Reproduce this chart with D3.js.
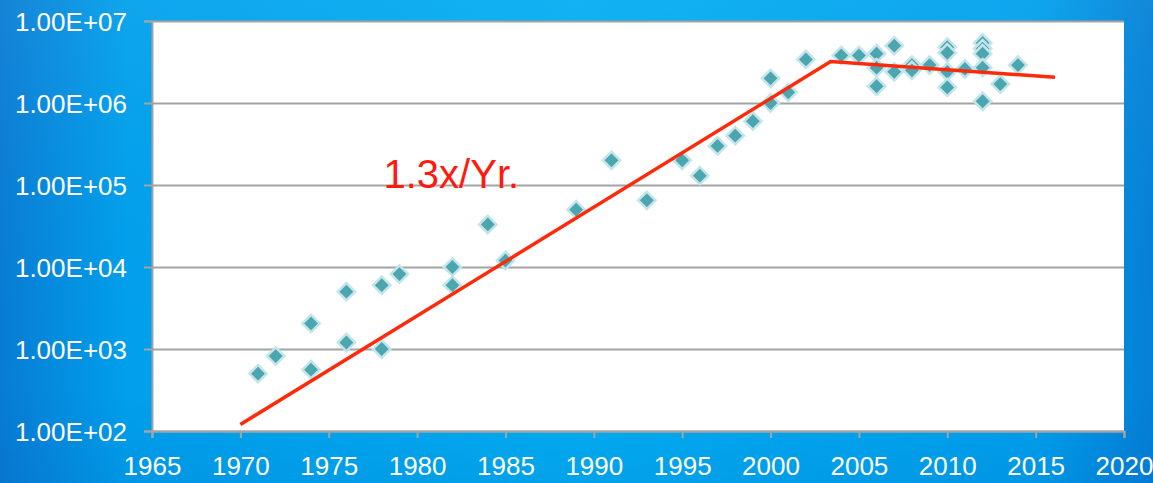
<!DOCTYPE html>
<html>
<head>
<meta charset="utf-8">
<script src="https://cdn.jsdelivr.net/npm/d3@7"></script>
<style>
  html, body { margin: 0; padding: 0; }
  body { width: 1153px; height: 483px; overflow: hidden; }
  text { font-family: "Liberation Sans", Arial, sans-serif; }
</style>
</head>
<body>
<div id="chart"></div>
<script>
// scatter data
const years = [1971, 1972, 1974, 1974, 1976, 1976, 1978, 1978, 1979, 1982, 1982, 1984, 1985,
  1989, 1991, 1993, 1995, 1996, 1997, 1998, 1999, 2000, 2000, 2001, 2002,
  2004, 2005, 2006, 2006, 2006, 2007, 2007, 2008, 2008, 2009,
  2010, 2010, 2010, 2010, 2011, 2012, 2012, 2012, 2012, 2012, 2013, 2014];
const values = [500, 820, 2050, 560, 5000, 1200, 6000, 1000, 8200, 10000, 6000, 33000, 12000,
  50000, 200000, 65000, 200000, 130000, 300000, 400000, 600000, 1000000, 2000000, 1350000, 3400000,
  3800000, 3800000, 4000000, 2700000, 1600000, 5000000, 2400000, 2900000, 2500000, 2900000,
  4800000, 4100000, 2400000, 1550000, 2600000, 5400000, 4600000, 4000000, 2700000, 1050000, 1700000, 2900000];

// trend line
const trendYears = [1970, 2003.4, 2016.1];
const trendValues = [120, 3200000, 2060000];

const xTicks = [1965, 1970, 1975, 1980, 1985, 1990, 1995, 2000, 2005, 2010, 2015, 2020];
const yTicks = [1e2, 1e3, 1e4, 1e5, 1e6, 1e7];
const rateLabel = "1.3x/Yr.";

const width = 1153, height = 483;
const margin = { top: 21, right: 29, bottom: 52, left: 152 };
const w = width - margin.left - margin.right;
const h = height - margin.top - margin.bottom;

const svg = d3.select('#chart').append('svg')
  .attr('width', width)
  .attr('height', height);

const defs = svg.append('defs');
const bg = defs.append('linearGradient').attr('id', 'bg').attr('x1', 0).attr('x2', 1).attr('y1', 0).attr('y2', 0);
[[0, '#087cd4'], [0.11, '#00a0ec'], [0.5, '#02aef2'], [0.9, '#00a0ec'], [0.975, '#0288dc'], [1, '#0580d6']]
  .forEach(([o, c]) => bg.append('stop').attr('offset', o).attr('stop-color', c));
const shade = defs.append('linearGradient').attr('id', 'shade').attr('x1', 0).attr('x2', 0).attr('y1', 0).attr('y2', 1);
[[0, 'rgba(255,255,255,0.06)'], [0.8, 'rgba(0,60,160,0)'], [1, 'rgba(0,60,160,0.1)']]
  .forEach(([o, c]) => shade.append('stop').attr('offset', o).attr('stop-color', c));

svg.append('rect').attr('width', width).attr('height', height).attr('fill', 'url(#bg)');
svg.append('rect').attr('width', width).attr('height', height).attr('fill', 'url(#shade)');

const g = svg.append('g').attr('transform', `translate(${margin.left},${margin.top})`);

const x = d3.scaleLinear().domain([1965, 2020]).range([0, w]);
const y = d3.scaleLog().domain([1e2, 1e7]).range([h, 0]);

g.append('rect').attr('width', w).attr('height', h).attr('fill', '#fff');

// gridlines
g.append('g')
  .call(d3.axisLeft(y).tickValues(yTicks).tickSize(-w).tickFormat(''))
  .call(s => s.select('.domain').remove())
  .call(s => s.selectAll('line').attr('stroke', '#a3a3a3').attr('stroke-width', 2));

const fmt = d => {
  const e = Math.round(Math.log10(d));
  return (d / Math.pow(10, e)).toFixed(2) + 'E+' + String(e).padStart(2, '0');
};

const yAxis = g.append('g')
  .call(d3.axisLeft(y).tickValues(yTicks).tickSize(8).tickPadding(17).tickFormat(fmt));
yAxis.select('.domain').attr('stroke', '#a3a3a3').attr('stroke-width', 2);
yAxis.selectAll('line').attr('stroke', '#a3a3a3').attr('stroke-width', 2);
yAxis.selectAll('text').attr('fill', '#fff').style('font-size', '26px').attr('dy', '0.36em');

const xAxis = g.append('g')
  .attr('transform', `translate(0,${h})`)
  .call(d3.axisBottom(x).tickValues(xTicks).tickSize(7).tickFormat(d3.format('d')));
xAxis.select('.domain').attr('stroke', '#a3a3a3').attr('stroke-width', 2);
xAxis.selectAll('line').attr('stroke', '#a3a3a3').attr('stroke-width', 2);
xAxis.selectAll('text').attr('fill', '#fff').style('font-size', '26px').attr('y', 44).attr('dy', 0);

// markers
const pts = years.map((yr, i) => ({ yr, v: values[i] }));
const diamond = d3.symbol(d3.symbolSquare, 150);
g.append('g').selectAll('path')
  .data(pts)
  .join('path')
  .attr('d', diamond)
  .attr('transform', d => `translate(${x(d.yr)},${y(d.v)}) rotate(45)`)
  .attr('fill', '#4ba6b0')
  .attr('stroke', '#c3e5ea')
  .attr('stroke-width', 2.5);

// trend
const trend = trendYears.map((yr, i) => ({ yr, v: trendValues[i] }));
g.append('path')
  .datum(trend)
  .attr('fill', 'none')
  .attr('stroke', '#ff2a0a')
  .attr('stroke-width', 3.5)
  .attr('d', d3.line().x(d => x(d.yr)).y(d => y(d.v)));

g.append('text')
  .attr('x', x(1978.1))
  .attr('y', y(9.1e4))
  .attr('fill', '#ff1a10')
  .style('font-size', '40px')
  .text(rateLabel);
</script>
</body>
</html>
